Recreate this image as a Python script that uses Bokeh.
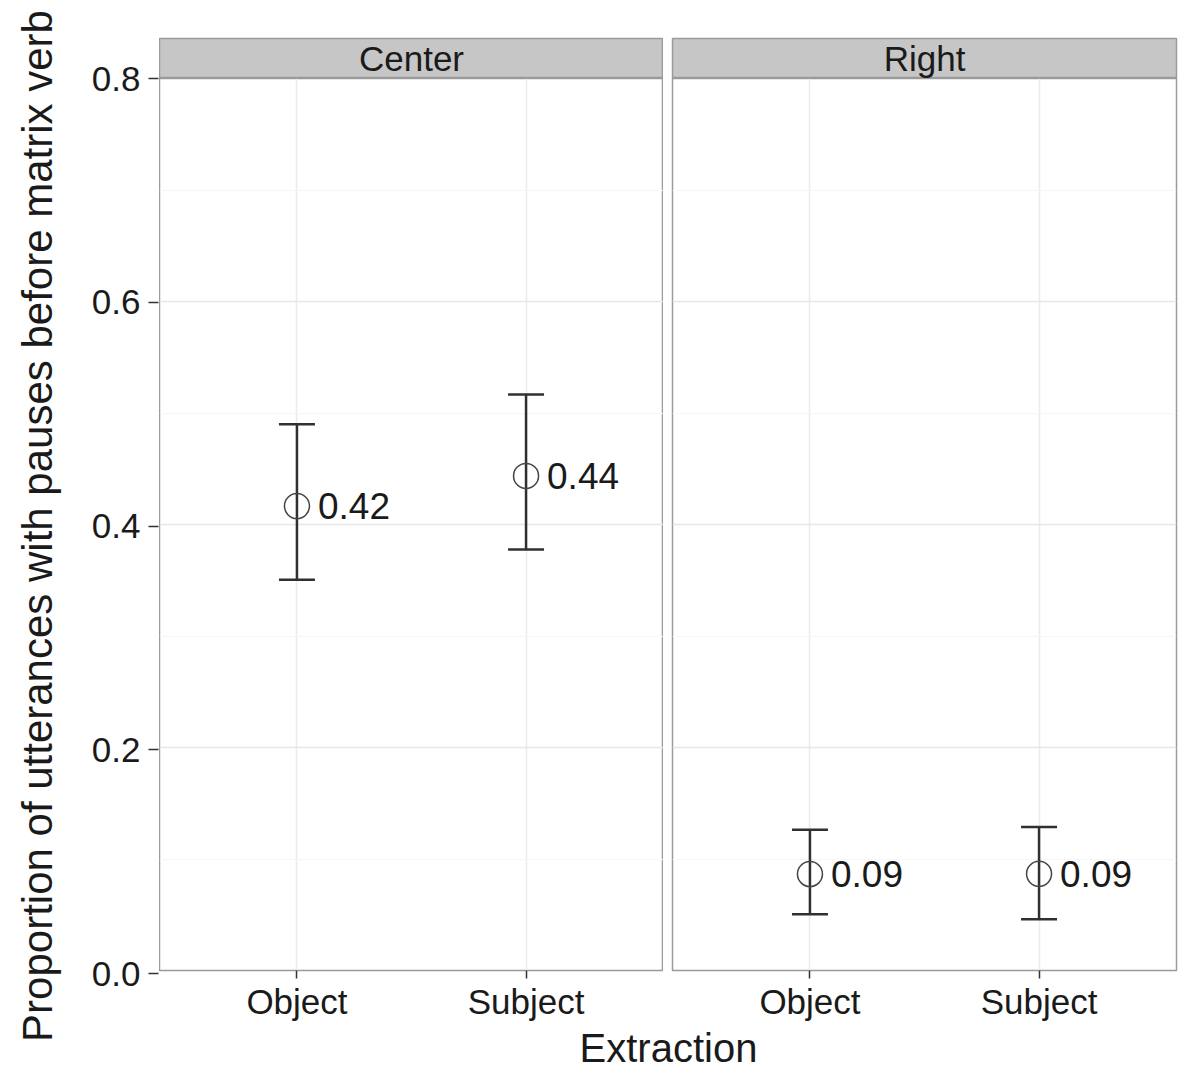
import math
from bokeh.plotting import figure
from bokeh.layouts import row, column
from bokeh.models import (ColumnDataSource, Whisker, TeeHead, FixedTicker,
                          NumeralTickFormatter, FactorRange, Range1d)
from bokeh.core.properties import value
from bokeh.embed import file_html
from bokeh.resources import INLINE

# ---------------- data ----------------
panels = ["Center", "Right"]
extraction = ["Object", "Subject"]
center_mean = [0.4165, 0.4436]
center_lower = [0.3504, 0.3775]
center_upper = [0.4898, 0.5166]
center_labels = ["0.42", "0.44"]
right_mean = [0.0865, 0.0867]
right_lower = [0.0504, 0.0459]
right_upper = [0.1263, 0.1287]
right_labels = ["0.09", "0.09"]
y_ticks = [0.0, 0.2, 0.4, 0.6, 0.8]
y_minor = [0.1, 0.3, 0.5, 0.7]
y_title = "Proportion of utterances with pauses before matrix verb"
x_title = "Extraction"

FONT = "Liberation Sans"
TXT = "#1a1a1a"
BORDER = "#9a9a9a"
STRIP = "#c6c6c6"

FRAME_W = 504
FRAME_H = 895
TOP = 78       # frame top (page px)
STRIP_H = 40
BOTTOM = 50    # space under panels for tick labels


def make_strip(name, left, right):
    s = figure(width=left + FRAME_W + right, height=TOP,
               x_range=FactorRange(factors=[name]), y_range=FactorRange(factors=[name]),
               x_axis_location=None, y_axis_location=None,
               min_border_left=left, min_border_right=right, min_border_top=TOP - STRIP_H,
               min_border_bottom=0, output_backend="svg", toolbar_location=None)
    s.grid.visible = False
    s.background_fill_color = STRIP
    s.border_fill_color = "white"
    s.outline_line_color = BORDER
    s.outline_line_width = 1.5
    s.text(x=[name], y=[name], text=[name], text_font=value(FONT),
           text_font_size="35px", text_align="center", text_baseline="middle",
           text_color=TXT)
    return s


def make_panel(mean, lower, upper, labels, left, right):
    p = figure(width=left + FRAME_W + right, height=FRAME_H + BOTTOM,
               x_range=FactorRange(factors=extraction, range_padding=0.1),
               y_range=Range1d(y_ticks[0], y_ticks[-1]),
               y_axis_location=None,
               min_border_left=left, min_border_right=right, min_border_top=0,
               min_border_bottom=BOTTOM, output_backend="svg", toolbar_location=None)
    p.background_fill_color = "white"
    p.border_fill_color = "white"
    p.outline_line_color = BORDER
    p.outline_line_width = 1.5

    p.xgrid.grid_line_color = "#ebebeb"
    p.xgrid.grid_line_width = 1.5
    p.ygrid.ticker = FixedTicker(ticks=y_ticks, minor_ticks=y_minor)
    p.ygrid.grid_line_color = "#e6e6e6"
    p.ygrid.grid_line_width = 1.5
    p.ygrid.minor_grid_line_color = "#f6f6f6"
    p.ygrid.minor_grid_line_width = 1.2

    for ax in p.xaxis:
        ax.axis_line_color = None
        ax.major_tick_out = 8
        ax.major_tick_in = 0
        ax.major_tick_line_color = "#333333"
        ax.major_tick_line_width = 1.5
        ax.minor_tick_line_color = None
        ax.major_label_standoff = 3
        ax.major_label_text_font = FONT
        ax.major_label_text_font_size = "35px"
        ax.major_label_text_color = TXT

    src = ColumnDataSource(dict(x=extraction, mean=mean, lower=lower,
                                upper=upper, label=labels))
    w = Whisker(base="x", upper="upper", lower="lower", source=src,
                line_color="#303030", line_width=2.5,
                upper_head=TeeHead(size=36, line_color="#303030", line_width=2.5),
                lower_head=TeeHead(size=36, line_color="#303030", line_width=2.5))
    p.add_layout(w)
    p.scatter(x="x", y="mean", source=src, marker="circle", size=25,
              fill_color=None, line_color="#444444", line_width=1.5)
    p.text(x="x", y="mean", text="label", source=src, x_offset=21,
           text_align="left", text_baseline="middle", text_font=value(FONT),
           text_font_size="37px", text_color=TXT)
    return p


# y axis (ticks, tick labels, title) on its own narrow figure
ya = figure(width=159, height=1060,
            x_range=Range1d(0, 1), y_range=Range1d(y_ticks[0], y_ticks[-1]),
            x_axis_location=None, y_axis_location="left",
            min_border_left=158, min_border_right=0, min_border_top=TOP,
            min_border_bottom=1060 - TOP - FRAME_H,
            output_backend="svg", toolbar_location=None)
ya.grid.visible = False
ya.outline_line_color = None
ax = ya.yaxis[0]
ax.ticker = FixedTicker(ticks=y_ticks, minor_ticks=y_minor)
ax.formatter = NumeralTickFormatter(format="0.0")
ax.axis_line_color = None
ax.major_tick_out = 10
ax.major_tick_in = 0
ax.major_tick_line_color = "#333333"
ax.major_tick_line_width = 1.5
ax.minor_tick_line_color = None
ax.major_label_standoff = 8
ax.major_label_text_font = FONT
ax.major_label_text_font_size = "35px"
ax.major_label_text_color = TXT
ax.axis_label = y_title
ax.axis_label_text_font = FONT
ax.axis_label_text_font_size = "42px"
ax.axis_label_text_font_style = "normal"
ax.axis_label_text_color = TXT
ax.axis_label_standoff = 28

s1 = make_strip(panels[0], 0, 0)
s2 = make_strip(panels[1], 9, 8)
m1 = make_panel(center_mean, center_lower, center_upper, center_labels, 0, 0)
m2 = make_panel(right_mean, right_lower, right_upper, right_labels, 9, 8)

xt = figure(width=2 * FRAME_W + 9 + 8, height=48,
            x_range=FactorRange(factors=[x_title]), y_range=FactorRange(factors=[x_title]),
            x_axis_location=None, y_axis_location=None,
            min_border_left=0, min_border_right=7, min_border_top=0, min_border_bottom=0,
            output_backend="svg", toolbar_location=None)
xt.grid.visible = False
xt.outline_line_color = None
xt.text(x=[x_title], y=[x_title], text=[x_title], text_font=value(FONT),
        text_font_size="40px", text_align="center", text_baseline="middle",
        text_color=TXT)

layout = row(ya, column(row(s1, s2), row(m1, m2), xt))

open("out.html", "w").write(file_html(layout, INLINE))
